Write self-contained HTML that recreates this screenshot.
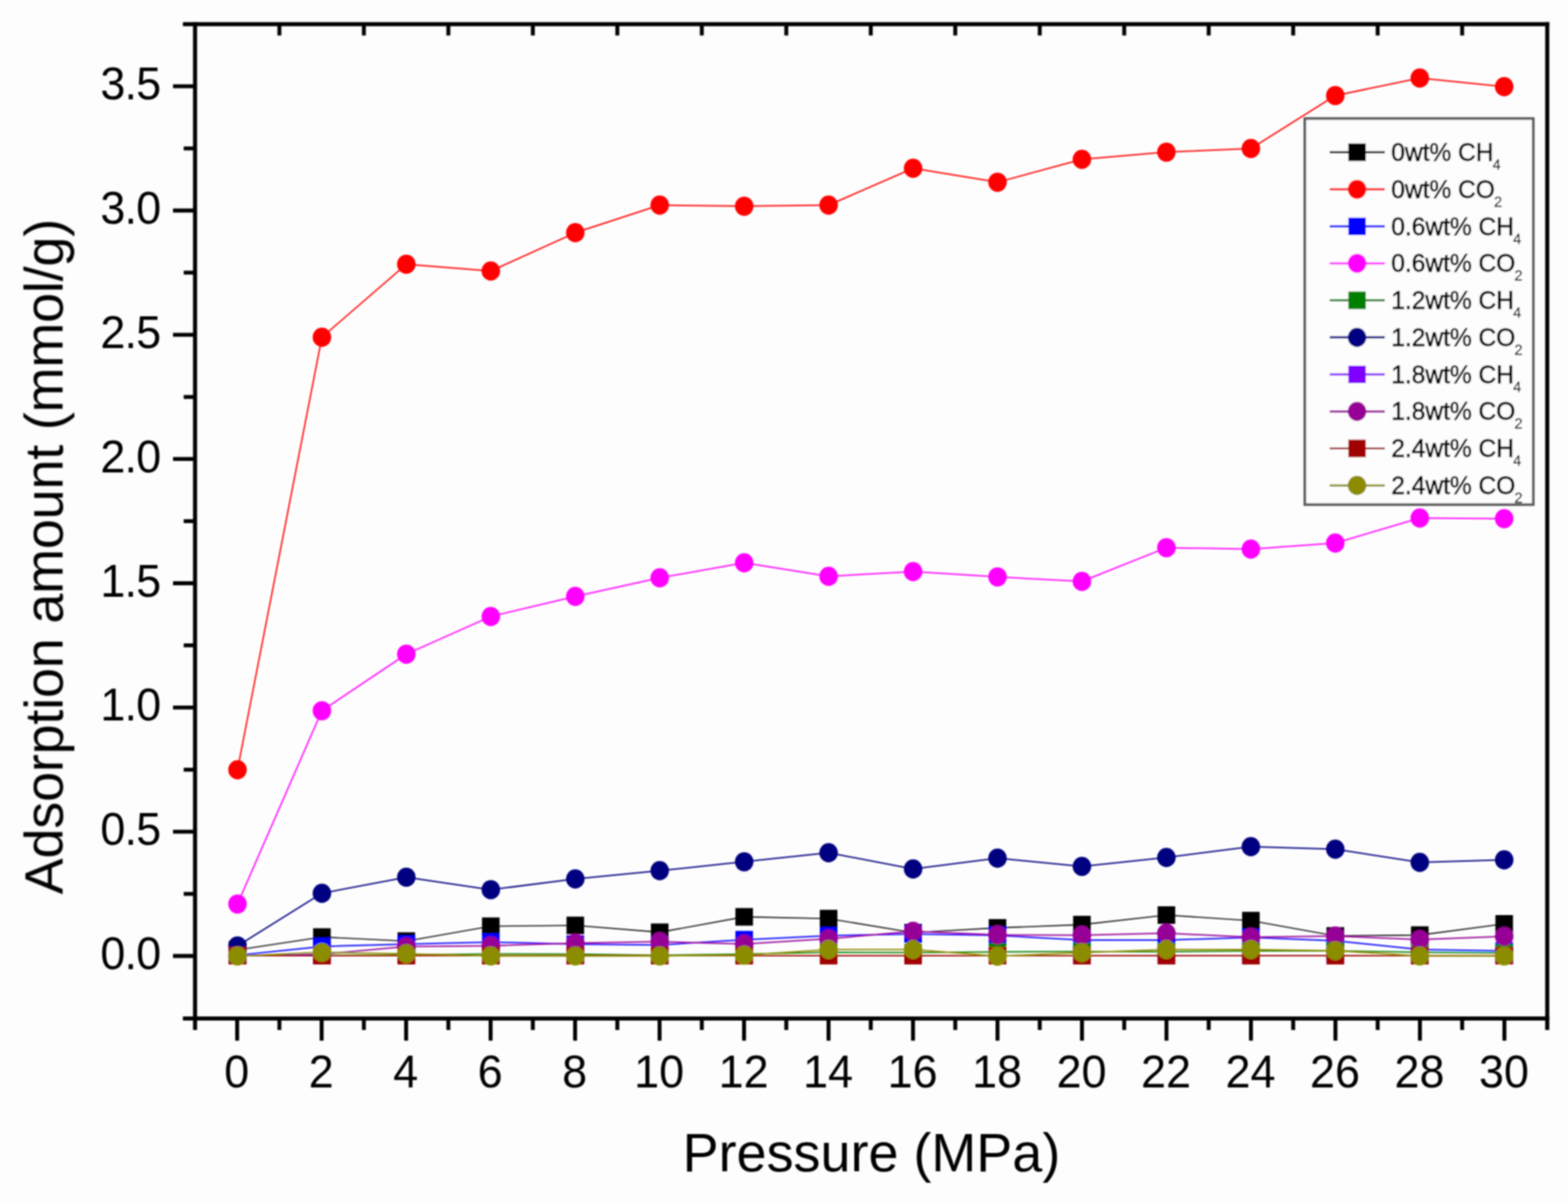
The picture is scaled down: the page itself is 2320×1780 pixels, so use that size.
<!DOCTYPE html>
<html lang="en"><head><meta charset="utf-8"><title>Adsorption amount vs Pressure</title>
<style>
html,body{margin:0;padding:0;background:#fdfdfd;}
body{width:2320px;height:1780px;overflow:hidden;}
svg{display:block;}
text{font-family:"Liberation Sans", sans-serif;fill:#000;}
.tl{font-size:66.5px;}
.ti{font-size:79.8px;}
.lg{font-size:36.3px;stroke:#000;stroke-width:0.9px;}
.sb{font-size:21.5px;stroke-width:0.35px;}
</style></head><body>
<svg width="2320" height="1780" viewBox="0 0 2320 1780">
<defs><filter id="soft" x="-2%" y="-2%" width="104%" height="104%"><feGaussianBlur stdDeviation="0.90"/></filter></defs>
<rect x="0" y="0" width="2320" height="1780" fill="#fdfdfd"/>
<g filter="url(#soft)">
<g id="plot">
<g fill="#000000" stroke="none">
<polyline points="351.4,1405.5 476.3,1386.5 601.2,1392.5 726.2,1370.5 851.2,1369.3 976.1,1379.4 1101.1,1356.6 1226.0,1359.2 1351.0,1380.0 1475.9,1372.9 1600.8,1368.1 1725.8,1354.0 1850.8,1362.2 1975.7,1384.8 2100.7,1383.6 2225.6,1367.0" fill="none" stroke="#000000" stroke-width="1.60" stroke-linejoin="round"/>
<rect x="338.4" y="1392.5" width="26.0" height="26.0"/>
<rect x="463.3" y="1373.5" width="26.0" height="26.0"/>
<rect x="588.2" y="1379.5" width="26.0" height="26.0"/>
<rect x="713.2" y="1357.5" width="26.0" height="26.0"/>
<rect x="838.2" y="1356.3" width="26.0" height="26.0"/>
<rect x="963.1" y="1366.4" width="26.0" height="26.0"/>
<rect x="1088.1" y="1343.6" width="26.0" height="26.0"/>
<rect x="1213.0" y="1346.2" width="26.0" height="26.0"/>
<rect x="1338.0" y="1367.0" width="26.0" height="26.0"/>
<rect x="1462.9" y="1359.9" width="26.0" height="26.0"/>
<rect x="1587.8" y="1355.1" width="26.0" height="26.0"/>
<rect x="1712.8" y="1341.0" width="26.0" height="26.0"/>
<rect x="1837.8" y="1349.2" width="26.0" height="26.0"/>
<rect x="1962.7" y="1371.8" width="26.0" height="26.0"/>
<rect x="2087.7" y="1370.6" width="26.0" height="26.0"/>
<rect x="2212.6" y="1354.0" width="26.0" height="26.0"/>
</g>
<g fill="#ff0000" stroke="none">
<polyline points="351.4,1139.0 476.3,499.0 601.2,390.9 726.2,401.0 851.2,344.3 976.1,303.5 1101.1,305.1 1226.0,303.5 1351.0,249.0 1475.9,269.6 1600.8,235.7 1725.8,225.1 1850.8,219.8 1975.7,141.4 2100.7,115.5 2225.6,128.2" fill="none" stroke="#ff0000" stroke-width="2.00" stroke-linejoin="round"/>
<ellipse cx="351.4" cy="1139.0" rx="13.7" ry="14.2"/>
<ellipse cx="476.3" cy="499.0" rx="13.7" ry="14.2"/>
<ellipse cx="601.2" cy="390.9" rx="13.7" ry="14.2"/>
<ellipse cx="726.2" cy="401.0" rx="13.7" ry="14.2"/>
<ellipse cx="851.2" cy="344.3" rx="13.7" ry="14.2"/>
<ellipse cx="976.1" cy="303.5" rx="13.7" ry="14.2"/>
<ellipse cx="1101.1" cy="305.1" rx="13.7" ry="14.2"/>
<ellipse cx="1226.0" cy="303.5" rx="13.7" ry="14.2"/>
<ellipse cx="1351.0" cy="249.0" rx="13.7" ry="14.2"/>
<ellipse cx="1475.9" cy="269.6" rx="13.7" ry="14.2"/>
<ellipse cx="1600.8" cy="235.7" rx="13.7" ry="14.2"/>
<ellipse cx="1725.8" cy="225.1" rx="13.7" ry="14.2"/>
<ellipse cx="1850.8" cy="219.8" rx="13.7" ry="14.2"/>
<ellipse cx="1975.7" cy="141.4" rx="13.7" ry="14.2"/>
<ellipse cx="2100.7" cy="115.5" rx="13.7" ry="14.2"/>
<ellipse cx="2225.6" cy="128.2" rx="13.7" ry="14.2"/>
</g>
<g fill="#0000ff" stroke="none">
<polyline points="351.4,1413.5 476.3,1400.4 601.2,1397.0 726.2,1394.0 851.2,1397.0 976.1,1398.2 1101.1,1390.4 1226.0,1384.5 1351.0,1382.0 1475.9,1384.0 1600.8,1391.0 1725.8,1391.0 1850.8,1387.0 1975.7,1392.0 2100.7,1405.0 2225.6,1407.0" fill="none" stroke="#0000ff" stroke-width="2.00" stroke-linejoin="round"/>
<rect x="338.4" y="1400.5" width="26.0" height="26.0"/>
<rect x="463.3" y="1387.4" width="26.0" height="26.0"/>
<rect x="588.2" y="1384.0" width="26.0" height="26.0"/>
<rect x="713.2" y="1381.0" width="26.0" height="26.0"/>
<rect x="838.2" y="1384.0" width="26.0" height="26.0"/>
<rect x="963.1" y="1385.2" width="26.0" height="26.0"/>
<rect x="1088.1" y="1377.4" width="26.0" height="26.0"/>
<rect x="1213.0" y="1371.5" width="26.0" height="26.0"/>
<rect x="1338.0" y="1369.0" width="26.0" height="26.0"/>
<rect x="1462.9" y="1371.0" width="26.0" height="26.0"/>
<rect x="1587.8" y="1378.0" width="26.0" height="26.0"/>
<rect x="1712.8" y="1378.0" width="26.0" height="26.0"/>
<rect x="1837.8" y="1374.0" width="26.0" height="26.0"/>
<rect x="1962.7" y="1379.0" width="26.0" height="26.0"/>
<rect x="2087.7" y="1392.0" width="26.0" height="26.0"/>
<rect x="2212.6" y="1394.0" width="26.0" height="26.0"/>
</g>
<g fill="#ff00ff" stroke="none">
<polyline points="351.4,1337.6 476.3,1051.6 601.2,967.9 726.2,912.2 851.2,882.5 976.1,855.0 1101.1,832.7 1226.0,852.7 1351.0,845.8 1475.9,853.6 1600.8,860.3 1725.8,810.4 1850.8,812.5 1975.7,803.5 2100.7,766.5 2225.6,767.5" fill="none" stroke="#ff00ff" stroke-width="2.00" stroke-linejoin="round"/>
<ellipse cx="351.4" cy="1337.6" rx="13.7" ry="14.2"/>
<ellipse cx="476.3" cy="1051.6" rx="13.7" ry="14.2"/>
<ellipse cx="601.2" cy="967.9" rx="13.7" ry="14.2"/>
<ellipse cx="726.2" cy="912.2" rx="13.7" ry="14.2"/>
<ellipse cx="851.2" cy="882.5" rx="13.7" ry="14.2"/>
<ellipse cx="976.1" cy="855.0" rx="13.7" ry="14.2"/>
<ellipse cx="1101.1" cy="832.7" rx="13.7" ry="14.2"/>
<ellipse cx="1226.0" cy="852.7" rx="13.7" ry="14.2"/>
<ellipse cx="1351.0" cy="845.8" rx="13.7" ry="14.2"/>
<ellipse cx="1475.9" cy="853.6" rx="13.7" ry="14.2"/>
<ellipse cx="1600.8" cy="860.3" rx="13.7" ry="14.2"/>
<ellipse cx="1725.8" cy="810.4" rx="13.7" ry="14.2"/>
<ellipse cx="1850.8" cy="812.5" rx="13.7" ry="14.2"/>
<ellipse cx="1975.7" cy="803.5" rx="13.7" ry="14.2"/>
<ellipse cx="2100.7" cy="766.5" rx="13.7" ry="14.2"/>
<ellipse cx="2225.6" cy="767.5" rx="13.7" ry="14.2"/>
</g>
<g fill="#008000" stroke="none">
<polyline points="351.4,1414.0 476.3,1413.5 601.2,1413.0 726.2,1411.5 851.2,1411.8 976.1,1413.5 1101.1,1411.8 1226.0,1409.0 1351.0,1409.5 1475.9,1408.5 1600.8,1408.0 1725.8,1408.3 1850.8,1407.0 1975.7,1407.0 2100.7,1409.0 2225.6,1410.0" fill="none" stroke="#008000" stroke-width="2.00" stroke-linejoin="round"/>
<rect x="338.4" y="1401.0" width="26.0" height="26.0"/>
<rect x="463.3" y="1400.5" width="26.0" height="26.0"/>
<rect x="588.2" y="1400.0" width="26.0" height="26.0"/>
<rect x="713.2" y="1398.5" width="26.0" height="26.0"/>
<rect x="838.2" y="1398.8" width="26.0" height="26.0"/>
<rect x="963.1" y="1400.5" width="26.0" height="26.0"/>
<rect x="1088.1" y="1398.8" width="26.0" height="26.0"/>
<rect x="1213.0" y="1396.0" width="26.0" height="26.0"/>
<rect x="1338.0" y="1396.5" width="26.0" height="26.0"/>
<rect x="1462.9" y="1395.5" width="26.0" height="26.0"/>
<rect x="1587.8" y="1395.0" width="26.0" height="26.0"/>
<rect x="1712.8" y="1395.3" width="26.0" height="26.0"/>
<rect x="1837.8" y="1394.0" width="26.0" height="26.0"/>
<rect x="1962.7" y="1394.0" width="26.0" height="26.0"/>
<rect x="2087.7" y="1396.0" width="26.0" height="26.0"/>
<rect x="2212.6" y="1397.0" width="26.0" height="26.0"/>
</g>
<g fill="#000080" stroke="none">
<polyline points="351.4,1399.6 476.3,1321.7 601.2,1297.9 726.2,1316.4 851.2,1300.5 976.1,1288.3 1101.1,1275.1 1226.0,1261.8 1351.0,1285.7 1475.9,1269.8 1600.8,1282.0 1725.8,1268.7 1850.8,1252.8 1975.7,1256.5 2100.7,1276.0 2225.6,1272.3" fill="none" stroke="#000080" stroke-width="2.00" stroke-linejoin="round"/>
<ellipse cx="351.4" cy="1399.6" rx="13.7" ry="14.2"/>
<ellipse cx="476.3" cy="1321.7" rx="13.7" ry="14.2"/>
<ellipse cx="601.2" cy="1297.9" rx="13.7" ry="14.2"/>
<ellipse cx="726.2" cy="1316.4" rx="13.7" ry="14.2"/>
<ellipse cx="851.2" cy="1300.5" rx="13.7" ry="14.2"/>
<ellipse cx="976.1" cy="1288.3" rx="13.7" ry="14.2"/>
<ellipse cx="1101.1" cy="1275.1" rx="13.7" ry="14.2"/>
<ellipse cx="1226.0" cy="1261.8" rx="13.7" ry="14.2"/>
<ellipse cx="1351.0" cy="1285.7" rx="13.7" ry="14.2"/>
<ellipse cx="1475.9" cy="1269.8" rx="13.7" ry="14.2"/>
<ellipse cx="1600.8" cy="1282.0" rx="13.7" ry="14.2"/>
<ellipse cx="1725.8" cy="1268.7" rx="13.7" ry="14.2"/>
<ellipse cx="1850.8" cy="1252.8" rx="13.7" ry="14.2"/>
<ellipse cx="1975.7" cy="1256.5" rx="13.7" ry="14.2"/>
<ellipse cx="2100.7" cy="1276.0" rx="13.7" ry="14.2"/>
<ellipse cx="2225.6" cy="1272.3" rx="13.7" ry="14.2"/>
</g>
<g fill="#8000ff" stroke="none">
<polyline points="351.4,1414.0 476.3,1414.0 601.2,1414.0 726.2,1414.0 851.2,1414.0 976.1,1414.0 1101.1,1414.0 1226.0,1414.0 1351.0,1414.0 1475.9,1414.0 1600.8,1414.0 1725.8,1414.0 1850.8,1414.0 1975.7,1414.0 2100.7,1414.0 2225.6,1414.0" fill="none" stroke="#8000ff" stroke-width="2.00" stroke-linejoin="round"/>
<rect x="338.4" y="1401.0" width="26.0" height="26.0"/>
<rect x="463.3" y="1401.0" width="26.0" height="26.0"/>
<rect x="588.2" y="1401.0" width="26.0" height="26.0"/>
<rect x="713.2" y="1401.0" width="26.0" height="26.0"/>
<rect x="838.2" y="1401.0" width="26.0" height="26.0"/>
<rect x="963.1" y="1401.0" width="26.0" height="26.0"/>
<rect x="1088.1" y="1401.0" width="26.0" height="26.0"/>
<rect x="1213.0" y="1401.0" width="26.0" height="26.0"/>
<rect x="1338.0" y="1401.0" width="26.0" height="26.0"/>
<rect x="1462.9" y="1401.0" width="26.0" height="26.0"/>
<rect x="1587.8" y="1401.0" width="26.0" height="26.0"/>
<rect x="1712.8" y="1401.0" width="26.0" height="26.0"/>
<rect x="1837.8" y="1401.0" width="26.0" height="26.0"/>
<rect x="1962.7" y="1401.0" width="26.0" height="26.0"/>
<rect x="2087.7" y="1401.0" width="26.0" height="26.0"/>
<rect x="2212.6" y="1401.0" width="26.0" height="26.0"/>
</g>
<g fill="#960096" stroke="none">
<polyline points="351.4,1414.0 476.3,1412.0 601.2,1400.6 726.2,1399.4 851.2,1395.5 976.1,1393.3 1101.1,1396.8 1226.0,1389.1 1351.0,1378.0 1475.9,1383.2 1600.8,1383.8 1725.8,1380.8 1850.8,1386.7 1975.7,1385.0 2100.7,1390.3 2225.6,1385.5" fill="none" stroke="#960096" stroke-width="2.00" stroke-linejoin="round"/>
<ellipse cx="351.4" cy="1414.0" rx="13.7" ry="14.2"/>
<ellipse cx="476.3" cy="1412.0" rx="13.7" ry="14.2"/>
<ellipse cx="601.2" cy="1400.6" rx="13.7" ry="14.2"/>
<ellipse cx="726.2" cy="1399.4" rx="13.7" ry="14.2"/>
<ellipse cx="851.2" cy="1395.5" rx="13.7" ry="14.2"/>
<ellipse cx="976.1" cy="1393.3" rx="13.7" ry="14.2"/>
<ellipse cx="1101.1" cy="1396.8" rx="13.7" ry="14.2"/>
<ellipse cx="1226.0" cy="1389.1" rx="13.7" ry="14.2"/>
<ellipse cx="1351.0" cy="1378.0" rx="13.7" ry="14.2"/>
<ellipse cx="1475.9" cy="1383.2" rx="13.7" ry="14.2"/>
<ellipse cx="1600.8" cy="1383.8" rx="13.7" ry="14.2"/>
<ellipse cx="1725.8" cy="1380.8" rx="13.7" ry="14.2"/>
<ellipse cx="1850.8" cy="1386.7" rx="13.7" ry="14.2"/>
<ellipse cx="1975.7" cy="1385.0" rx="13.7" ry="14.2"/>
<ellipse cx="2100.7" cy="1390.3" rx="13.7" ry="14.2"/>
<ellipse cx="2225.6" cy="1385.5" rx="13.7" ry="14.2"/>
</g>
<g fill="#a00000" stroke="none">
<polyline points="351.4,1414.0 476.3,1414.0 601.2,1414.0 726.2,1414.0 851.2,1414.0 976.1,1414.0 1101.1,1414.0 1226.0,1414.0 1351.0,1414.0 1475.9,1414.0 1600.8,1414.0 1725.8,1414.0 1850.8,1414.0 1975.7,1414.0 2100.7,1414.0 2225.6,1414.0" fill="none" stroke="#a00000" stroke-width="2.00" stroke-linejoin="round"/>
<rect x="338.4" y="1401.0" width="26.0" height="26.0"/>
<rect x="463.3" y="1401.0" width="26.0" height="26.0"/>
<rect x="588.2" y="1401.0" width="26.0" height="26.0"/>
<rect x="713.2" y="1401.0" width="26.0" height="26.0"/>
<rect x="838.2" y="1401.0" width="26.0" height="26.0"/>
<rect x="963.1" y="1401.0" width="26.0" height="26.0"/>
<rect x="1088.1" y="1401.0" width="26.0" height="26.0"/>
<rect x="1213.0" y="1401.0" width="26.0" height="26.0"/>
<rect x="1338.0" y="1401.0" width="26.0" height="26.0"/>
<rect x="1462.9" y="1401.0" width="26.0" height="26.0"/>
<rect x="1587.8" y="1401.0" width="26.0" height="26.0"/>
<rect x="1712.8" y="1401.0" width="26.0" height="26.0"/>
<rect x="1837.8" y="1401.0" width="26.0" height="26.0"/>
<rect x="1962.7" y="1401.0" width="26.0" height="26.0"/>
<rect x="2087.7" y="1401.0" width="26.0" height="26.0"/>
<rect x="2212.6" y="1401.0" width="26.0" height="26.0"/>
</g>
<g fill="#8c8c00" stroke="none">
<polyline points="351.4,1414.4 476.3,1409.1 601.2,1411.2 726.2,1414.4 851.2,1414.4 976.1,1414.4 1101.1,1413.2 1226.0,1405.0 1351.0,1405.0 1475.9,1414.8 1600.8,1409.5 1725.8,1405.0 1850.8,1405.0 1975.7,1406.7 2100.7,1414.4 2225.6,1414.4" fill="none" stroke="#8c8c00" stroke-width="2.00" stroke-linejoin="round"/>
<ellipse cx="351.4" cy="1414.4" rx="13.7" ry="14.2"/>
<ellipse cx="476.3" cy="1409.1" rx="13.7" ry="14.2"/>
<ellipse cx="601.2" cy="1411.2" rx="13.7" ry="14.2"/>
<ellipse cx="726.2" cy="1414.4" rx="13.7" ry="14.2"/>
<ellipse cx="851.2" cy="1414.4" rx="13.7" ry="14.2"/>
<ellipse cx="976.1" cy="1414.4" rx="13.7" ry="14.2"/>
<ellipse cx="1101.1" cy="1413.2" rx="13.7" ry="14.2"/>
<ellipse cx="1226.0" cy="1405.0" rx="13.7" ry="14.2"/>
<ellipse cx="1351.0" cy="1405.0" rx="13.7" ry="14.2"/>
<ellipse cx="1475.9" cy="1414.8" rx="13.7" ry="14.2"/>
<ellipse cx="1600.8" cy="1409.5" rx="13.7" ry="14.2"/>
<ellipse cx="1725.8" cy="1405.0" rx="13.7" ry="14.2"/>
<ellipse cx="1850.8" cy="1405.0" rx="13.7" ry="14.2"/>
<ellipse cx="1975.7" cy="1406.7" rx="13.7" ry="14.2"/>
<ellipse cx="2100.7" cy="1414.4" rx="13.7" ry="14.2"/>
<ellipse cx="2225.6" cy="1414.4" rx="13.7" ry="14.2"/>
</g>
</g>
<g id="axes" stroke="#000" fill="none" stroke-linecap="butt">
<path d="M270.6 35.7 H2292.3" stroke-width="6.0"/>
<path d="M270.6 1507.1 H2292.3" stroke-width="6.0"/>
<path d="M288.6 32.7 V1523.9" stroke-width="6.0"/>
<path d="M2289.3 32.7 V1523.9" stroke-width="6.0"/>
<path d="M350.9 1507.1v32.6M413.4 1507.1v16.8M475.9 1507.1v32.6M538.4 1507.1v16.8M600.9 1507.1v32.6M663.4 1507.1v16.8M725.9 1507.1v32.6M788.4 1507.1v16.8M850.9 1507.1v32.6M913.4 1507.1v16.8M975.9 1507.1v32.6M1038.4 1507.1v16.8M1100.9 1507.1v32.6M1163.4 1507.1v16.8M1225.9 1507.1v32.6M1288.4 1507.1v16.8M1350.9 1507.1v32.6M1413.4 1507.1v16.8M1475.9 1507.1v32.6M1538.4 1507.1v16.8M1600.9 1507.1v32.6M1663.4 1507.1v16.8M1725.9 1507.1v32.6M1788.4 1507.1v16.8M1850.9 1507.1v32.6M1913.4 1507.1v16.8M1975.9 1507.1v32.6M2038.4 1507.1v16.8M2100.9 1507.1v32.6M2163.4 1507.1v16.8M2225.9 1507.1v32.6M413.4 35.7v16.8M538.4 35.7v16.8M663.4 35.7v16.8M788.4 35.7v16.8M913.4 35.7v16.8M1038.4 35.7v16.8M1163.4 35.7v16.8M1288.4 35.7v16.8M1413.4 35.7v16.8M1538.4 35.7v16.8M1663.4 35.7v16.8M1788.4 35.7v16.8M1913.4 35.7v16.8M2038.4 35.7v16.8M2163.4 35.7v16.8M288.6 1414.5h-32.6M288.6 1230.7h-32.6M288.6 1046.8h-32.6M288.6 863.0h-32.6M288.6 679.2h-32.6M288.6 495.3h-32.6M288.6 311.5h-32.6M288.6 127.7h-32.6M288.6 1322.6h-16.8M288.6 1138.8h-16.8M288.6 954.9h-16.8M288.6 771.1h-16.8M288.6 587.3h-16.8M288.6 403.4h-16.8M288.6 219.6h-16.8" stroke-width="5.8"/>
</g>
<g id="xlabels" class="tl" text-anchor="middle">
<text class="tl" transform="translate(350.3 1608.5) scale(1 1.035)">0</text>
<text class="tl" transform="translate(475.3 1608.5) scale(1 1.035)">2</text>
<text class="tl" transform="translate(600.3 1608.5) scale(1 1.035)">4</text>
<text class="tl" transform="translate(725.3 1608.5) scale(1 1.035)">6</text>
<text class="tl" transform="translate(850.3 1608.5) scale(1 1.035)">8</text>
<text class="tl" transform="translate(975.3 1608.5) scale(1 1.035)">10</text>
<text class="tl" transform="translate(1100.3 1608.5) scale(1 1.035)">12</text>
<text class="tl" transform="translate(1225.3 1608.5) scale(1 1.035)">14</text>
<text class="tl" transform="translate(1350.3 1608.5) scale(1 1.035)">16</text>
<text class="tl" transform="translate(1475.3 1608.5) scale(1 1.035)">18</text>
<text class="tl" transform="translate(1600.3 1608.5) scale(1 1.035)">20</text>
<text class="tl" transform="translate(1725.3 1608.5) scale(1 1.035)">22</text>
<text class="tl" transform="translate(1850.3 1608.5) scale(1 1.035)">24</text>
<text class="tl" transform="translate(1975.3 1608.5) scale(1 1.035)">26</text>
<text class="tl" transform="translate(2100.3 1608.5) scale(1 1.035)">28</text>
<text class="tl" transform="translate(2225.3 1608.5) scale(1 1.035)">30</text>
</g>
<g id="ylabels" class="tl" text-anchor="end">
<text class="tl" textLength="90.2" lengthAdjust="spacing" transform="translate(238.6 1434.1) scale(1 1.035)">0.0</text>
<text class="tl" textLength="90.2" lengthAdjust="spacing" transform="translate(238.6 1250.3) scale(1 1.035)">0.5</text>
<text class="tl" textLength="90.2" lengthAdjust="spacing" transform="translate(238.6 1066.4) scale(1 1.035)">1.0</text>
<text class="tl" textLength="90.2" lengthAdjust="spacing" transform="translate(238.6 882.6) scale(1 1.035)">1.5</text>
<text class="tl" textLength="90.2" lengthAdjust="spacing" transform="translate(238.6 698.8) scale(1 1.035)">2.0</text>
<text class="tl" textLength="90.2" lengthAdjust="spacing" transform="translate(238.6 514.9) scale(1 1.035)">2.5</text>
<text class="tl" textLength="90.2" lengthAdjust="spacing" transform="translate(238.6 331.1) scale(1 1.035)">3.0</text>
<text class="tl" textLength="90.2" lengthAdjust="spacing" transform="translate(238.6 147.3) scale(1 1.035)">3.5</text>
</g>
<text class="ti" text-anchor="middle" x="1289.4" y="1732.8">Pressure (MPa)</text>
<text class="ti" text-anchor="middle" textLength="999.5" lengthAdjust="spacing" transform="translate(92.6 823.5) rotate(-90)">Adsorption amount (mmol/g)</text>
<g id="legend">
<rect x="1930.6" y="175.4" width="338.0" height="571.2" fill="#fdfdfd" stroke="#555" stroke-width="3.8"/>
<g fill="#000000">
<path d="M1967.5 225.3H2049" stroke="#000000" stroke-width="3.20" fill="none"/>
<rect x="1994.9" y="212.3" width="26.0" height="26.0"/>
</g>
<text class="lg" x="2058.5" y="237.9">0wt% CH<tspan class="sb" dx="-1.2" dy="13.0">4</tspan></text>
<g fill="#ff0000">
<path d="M1967.5 280.1H2049" stroke="#ff0000" stroke-width="3.20" fill="none"/>
<ellipse cx="2007.9" cy="280.1" rx="13.7" ry="14.2"/>
</g>
<text class="lg" x="2058.5" y="292.7">0wt% CO<tspan class="sb" dx="-1.2" dy="13.0">2</tspan></text>
<g fill="#0000ff">
<path d="M1967.5 334.9H2049" stroke="#0000ff" stroke-width="3.20" fill="none"/>
<rect x="1994.9" y="321.9" width="26.0" height="26.0"/>
</g>
<text class="lg" x="2058.5" y="347.5">0.6wt% CH<tspan class="sb" dx="-1.2" dy="13.0">4</tspan></text>
<g fill="#ff00ff">
<path d="M1967.5 389.6H2049" stroke="#ff00ff" stroke-width="3.20" fill="none"/>
<ellipse cx="2007.9" cy="389.6" rx="13.7" ry="14.2"/>
</g>
<text class="lg" x="2058.5" y="402.2">0.6wt% CO<tspan class="sb" dx="-1.2" dy="13.0">2</tspan></text>
<g fill="#008000">
<path d="M1967.5 444.4H2049" stroke="#008000" stroke-width="3.20" fill="none"/>
<rect x="1994.9" y="431.4" width="26.0" height="26.0"/>
</g>
<text class="lg" x="2058.5" y="457.0">1.2wt% CH<tspan class="sb" dx="-1.2" dy="13.0">4</tspan></text>
<g fill="#000080">
<path d="M1967.5 499.2H2049" stroke="#000080" stroke-width="3.20" fill="none"/>
<ellipse cx="2007.9" cy="499.2" rx="13.7" ry="14.2"/>
</g>
<text class="lg" x="2058.5" y="511.8">1.2wt% CO<tspan class="sb" dx="-1.2" dy="13.0">2</tspan></text>
<g fill="#8000ff">
<path d="M1967.5 554.0H2049" stroke="#8000ff" stroke-width="3.20" fill="none"/>
<rect x="1994.9" y="541.0" width="26.0" height="26.0"/>
</g>
<text class="lg" x="2058.5" y="566.6">1.8wt% CH<tspan class="sb" dx="-1.2" dy="13.0">4</tspan></text>
<g fill="#960096">
<path d="M1967.5 608.8H2049" stroke="#960096" stroke-width="3.20" fill="none"/>
<ellipse cx="2007.9" cy="608.8" rx="13.7" ry="14.2"/>
</g>
<text class="lg" x="2058.5" y="621.4">1.8wt% CO<tspan class="sb" dx="-1.2" dy="13.0">2</tspan></text>
<g fill="#a00000">
<path d="M1967.5 663.5H2049" stroke="#a00000" stroke-width="3.20" fill="none"/>
<rect x="1994.9" y="650.5" width="26.0" height="26.0"/>
</g>
<text class="lg" x="2058.5" y="676.1">2.4wt% CH<tspan class="sb" dx="-1.2" dy="13.0">4</tspan></text>
<g fill="#8c8c00">
<path d="M1967.5 718.3H2049" stroke="#8c8c00" stroke-width="3.20" fill="none"/>
<ellipse cx="2007.9" cy="718.3" rx="13.7" ry="14.2"/>
</g>
<text class="lg" x="2058.5" y="730.9">2.4wt% CO<tspan class="sb" dx="-1.2" dy="13.0">2</tspan></text>
</g>
</g>
</svg>
</body></html>
